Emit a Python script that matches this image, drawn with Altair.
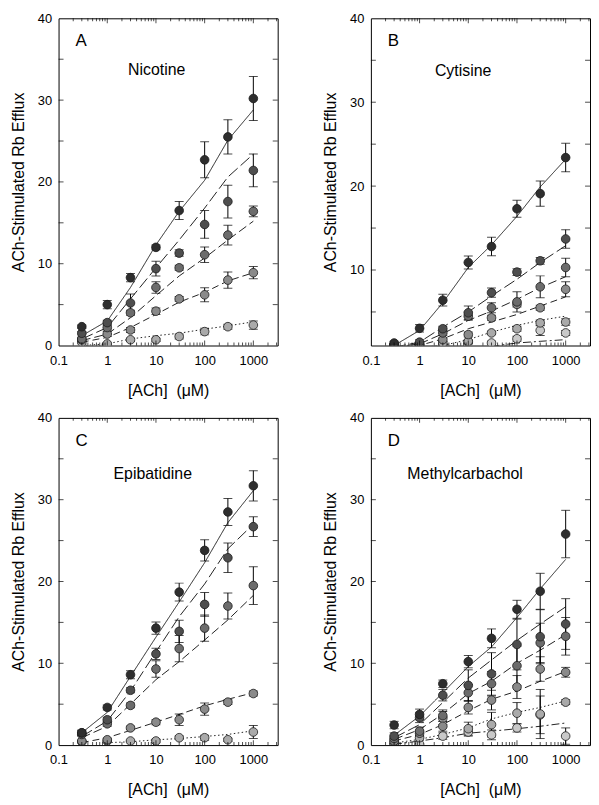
import altair as alt
import pandas as pd

# ---------------- data ----------------
X = [0.3, 1, 3, 10, 30, 100, 300, 1000]

# Panel A: Nicotine
A_MEAN = [
    [2.3, 5.0, 8.3, 12.0, 16.5, 22.7, 25.5, 30.2],
    [1.5, 2.8, 5.2, 9.4, 11.3, 14.8, 17.6, 21.4],
    [0.8, 2.2, 4.0, 7.1, 9.5, 11.1, 13.5, 16.4],
    [0.7, 1.4, 1.9, 4.2, 5.7, 6.2, 8.0, 8.9],
    [0.4, 0.2, 0.7, 0.7, 1.1, 1.7, 2.3, 2.5],
]
A_ERR = [
    [0.2, 0.5, 0.5, 0.3, 1.1, 2.2, 2.1, 2.7],
    [0.2, 0.3, 1.1, 0.9, 0.4, 1.7, 2.0, 2.0],
    [0.2, 0.3, 0.3, 0.7, 0.3, 0.95, 1.2, 0.65],
    [0.2, 0.3, 0.3, 0.4, 0.3, 0.85, 1.0, 0.75],
    [0.1, 0.1, 0.2, 0.2, 0.3, 0.4, 0.3, 0.5],
]
A_FIT = [
    [1.2, 3.0, 7.1, 12.3, 16.4, 20.2, 25.1, 28.8],
    [0.8, 2.2, 5.7, 9.5, 12.9, 16.8, 20.6, 23.4],
    [0.6, 1.4, 3.4, 6.1, 8.5, 10.7, 12.9, 15.2],
    [0.4, 1.0, 2.2, 3.8, 5.3, 6.5, 7.9, 8.9],
    [0.0, 0.2, 0.8, 1.2, 1.5, 2.0, 2.4, 2.9],
]

# Panel B: Cytisine
B_MEAN = [
    [1.3, 3.05, 6.4, 10.9, 12.8, 17.3, 19.1, 23.4],
    [1.1, 1.4, 3.0, 4.9, 7.3, 9.75, 11.1, 13.7],
    [1.1, 1.2, 2.5, 4.5, 5.5, 6.2, 8.0, 10.3],
    [1.0, 1.1, 1.7, 2.3, 4.3, 5.9, 5.5, 7.7],
    [1.0, 1.0, 1.3, 1.5, 2.5, 3.0, 3.7, 3.8],
    [1.0, 1.0, 1.1, 1.4, 1.3, 1.8, 2.8, 2.5],
]
B_ERR = [
    [0.2, 0.45, 0.7, 0.77, 1.1, 1.0, 1.5, 1.7],
    [0.1, 0.3, 0.3, 0.8, 0.55, 0.4, 0.4, 1.1],
    [0.1, 0.2, 0.3, 0.5, 0.6, 1.2, 1.3, 1.1],
    [0.1, 0.1, 0.2, 0.3, 0.3, 0.3, 0.3, 0.9],
    [0.1, 0.1, 0.2, 0.2, 0.2, 0.3, 0.35, 0.4],
    [0.1, 0.1, 0.1, 0.2, 0.2, 0.3, 0.6, 0.3],
]
B_FIT = [
    [1.0, 2.8, 6.1, 10.3, 13.0, 16.4, 19.9, 23.2],
    [0.8, 1.4, 3.2, 5.0, 6.9, 8.9, 10.9, 12.9],
    [0.8, 1.2, 2.4, 4.0, 5.1, 6.5, 7.9, 9.2],
    [0.7, 1.0, 1.8, 3.0, 3.8, 4.7, 5.7, 6.8],
    [None, 0.8, 1.0, 1.7, 2.6, 3.4, 4.0, 4.5],
    [None, None, None, None, 0.9, 1.3, 1.5, 1.7],
]

# Panel C: Epibatidine
C_MEAN = [
    [1.5, 4.6, 8.6, 14.3, 18.7, 23.8, 28.5, 31.7],
    [1.5, 3.1, 6.7, 11.15, 13.9, 17.2, 22.9, 26.7],
    [1.3, 2.6, 4.85, 9.3, 11.8, 14.3, 17.0, 19.5],
    [0.5, 0.65, 2.1, 2.8, 3.1, 4.4, 5.25, 6.3],
    [0.4, 0.5, 0.5, 0.5, 0.9, 0.9, 0.65, 1.6],
]
C_ERR = [
    [0.3, 0.3, 0.5, 0.75, 1.1, 1.3, 1.65, 1.85],
    [0.3, 0.3, 0.3, 0.7, 1.35, 1.45, 1.8, 1.2],
    [0.2, 0.3, 0.3, 1.0, 1.6, 1.6, 1.6, 2.3],
    [0.1, 0.2, 0.2, 0.3, 0.7, 0.75, 0.3, 0.3],
    [0.1, 0.1, 0.1, 0.2, 0.2, 0.3, 0.2, 0.8],
]
C_FIT = [
    [1.5, 4.0, 8.4, 13.2, 17.5, 22.3, 27.2, 31.1],
    [1.05, 2.95, 6.6, 11.4, 15.7, 19.7, 24.0, 27.0],
    [0.9, 2.3, 5.0, 8.0, 10.2, 12.85, 15.3, 18.3],
    [0.3, 0.9, 1.8, 2.8, 3.75, 4.8, 5.6, 6.4],
    [None, 0.3, 0.4, 0.65, 0.8, 1.05, 1.3, 1.75],
]

# Panel D: Methylcarbachol
D_MEAN = [
    [2.45, 3.75, 7.5, 10.2, 13.05, 16.6, 18.8, 25.8],
    [1.1, 3.35, 6.1, 7.3, 8.7, 12.3, 13.25, 14.8],
    [0.8, 1.7, 3.6, 6.4, 7.5, 9.7, 12.5, 13.3],
    [0.5, 1.45, 2.3, 4.6, 5.5, 7.1, 9.3, 8.9],
    [0.3, 0.9, 3.3, 2.0, 2.5, 3.9, 3.8, 5.25],
    [0.1, 0.1, 1.1, 1.6, 1.25, 2.1, 3.7, 1.1],
]
D_ERR = [
    [0.45, 0.65, 0.45, 0.75, 1.15, 1.1, 2.2, 2.9],
    [0.4, 0.6, 0.7, 1.9, 2.6, 3.1, 3.3, 3.1],
    [0.3, 0.5, 0.7, 1.0, 1.5, 2.4, 2.4, 2.3],
    [0.3, 0.4, 0.6, 0.8, 1.2, 1.4, 1.5, 0.6],
    [0.2, 0.3, 0.8, 0.8, 1.5, 1.3, 3.0, 0.3],
    [0.1, 0.1, 0.4, 0.5, 0.6, 0.5, 2.3, 1.0],
]
D_FIT = [
    [1.2, 3.55, 6.4, 9.6, 12.0, 15.6, 19.1, 22.7],
    [0.9, 2.5, 5.2, 8.2, 10.4, 12.8, 14.8, 16.9],
    [0.7, 1.9, 3.8, 6.3, 7.8, 10.0, 11.6, 13.5],
    [0.5, 1.3, 2.5, 4.2, 5.6, 6.6, 7.8, 9.0],
    [0.25, 0.7, 1.3, 2.1, 3.2, 4.0, 4.6, 5.4],
    [0.1, 0.5, 0.9, 1.45, 1.7, 2.0, 2.3, 2.7],
]

X_LABELS = [0.1, 1, 10, 100, 1000]
X_MINOR = [0.2, 0.3, 0.4, 0.5, 0.6, 0.7, 0.8, 0.9, 2, 3, 4, 5, 6, 7, 8, 9,
           20, 30, 40, 50, 60, 70, 80, 90, 200, 300, 400, 500, 600, 700, 800, 900,
           2000, 3000]
X_MAJOR = [1, 10, 100, 1000]
Y_TICKS = [5, 10, 15, 20, 25, 30, 35]

SERIES = ["s1", "s2", "s3", "s4", "s5", "s6"]
GREYS = ["#2e2e2e", "#4e4e4e", "#6c6c6c", "#8a8a8a", "#aaaaaa", "#c9c9c9"]
DASHES = [[1, 0], [12, 4], [9, 4], [7, 4], [1.5, 2.5], [8, 3, 2, 3]]

W, H = 221, 330
FONT = "Liberation Sans"


def build_df(mean, err, fit):
    rows = []
    n = len(mean)
    for i in reversed(range(n)):
        for j, x in enumerate(X):
            rows.append(dict(conc=x, series=SERIES[i], order=n - i,
                             mean=mean[i][j],
                             lo=mean[i][j] - err[i][j],
                             hi=mean[i][j] + err[i][j],
                             fit=fit[i][j]))
    return pd.DataFrame(rows)


def panel(mean, err, fit, letter, name, name_x, name_y, ymin, ylabels):
    df = build_df(mean, err, fit)

    xs = alt.Scale(type="log", domain=[0.1, 3162.28], nice=False)
    ys = alt.Scale(domain=[ymin, 40], nice=False, zero=False)
    xaxis = alt.Axis(values=X_LABELS, format="~g", title="[ACh]\u00a0\u00a0(\u03bcM)",
                     ticks=False, tickSize=0, domain=False, grid=False,
                     labelPadding=9, titlePadding=15, labelFlush=False,
                     labelOverlap=False)
    yaxis = alt.Axis(values=ylabels, title="ACh-Stimulated Rb Efflux",
                     ticks=False, tickSize=0, domain=False, grid=False,
                     labelPadding=7, titlePadding=11, labelOverlap=False)

    def xe(field="conc"):
        return alt.X(f"{field}:Q", scale=xs, axis=xaxis)

    def ye(field):
        return alt.Y(f"{field}:Q", scale=ys, axis=yaxis)

    base = alt.Chart(df)
    lines = base.mark_line(color="#222222", strokeWidth=1, clip=True).encode(
        x=xe(), y=ye("fit"), detail="series:N",
        strokeDash=alt.StrokeDash("series:N", scale=alt.Scale(domain=SERIES, range=DASHES), legend=None),
    )
    rules = base.mark_rule(color="black", strokeWidth=1, clip=True).encode(
        x=xe(), y=ye("lo"), y2="hi:Q")
    cap_lo = base.mark_tick(orient="horizontal", size=9, thickness=1, color="black", clip=True).encode(
        x=xe(), y=ye("lo"))
    cap_hi = base.mark_tick(orient="horizontal", size=9, thickness=1, color="black", clip=True).encode(
        x=xe(), y=ye("hi"))
    pts = base.mark_circle(size=76, opacity=1, stroke="#1a1a1a", strokeWidth=0.8, clip=True).encode(
        x=xe(), y=ye("mean"),
        fill=alt.Fill("series:N", scale=alt.Scale(domain=SERIES, range=GREYS), legend=None),
        order=alt.Order("order:Q"),
    )

    xminor = pd.DataFrame({"v": X_MINOR})
    xmajor = pd.DataFrame({"v": X_MAJOR})
    yt = pd.DataFrame({"v": [v for v in Y_TICKS if v > ymin]})
    tk = dict(thickness=1, color="black")
    decor = [
        alt.Chart(xminor).mark_tick(orient="vertical", size=3, **tk).encode(x=xe("v"), y=alt.value(1.5)),
        alt.Chart(xmajor).mark_tick(orient="vertical", size=5, **tk).encode(x=xe("v"), y=alt.value(2.5)),
        alt.Chart(xminor).mark_tick(orient="vertical", size=3, **tk).encode(x=xe("v"), y=alt.value(H - 1.5)),
        alt.Chart(xmajor).mark_tick(orient="vertical", size=5, **tk).encode(x=xe("v"), y=alt.value(H - 2.5)),
        alt.Chart(yt).mark_tick(orient="horizontal", size=5, **tk).encode(y=ye("v"), x=alt.value(2.5)),
        alt.Chart(yt).mark_tick(orient="horizontal", size=5, **tk).encode(y=ye("v"), x=alt.value(W - 2.5)),
    ]
    txt = pd.DataFrame({"letter": [letter], "name": [name]})
    t_letter = alt.Chart(txt).mark_text(font=FONT, fontSize=17, align="left", baseline="middle",
                                        color="black").encode(
        text="letter:N", x=alt.value(17), y=alt.value(23))
    t_name = alt.Chart(txt).mark_text(font=FONT, fontSize=16, align="center", baseline="middle",
                                      color="black").encode(
        text="name:N", x=alt.value(name_x), y=alt.value(name_y))

    return alt.layer(lines, rules, cap_lo, cap_hi, pts, *decor, t_letter, t_name).properties(
        width=W, height=H)


pA = panel(A_MEAN, A_ERR, A_FIT, "A", "Nicotine", 99, 52, 0, [0, 10, 20, 30, 40])
pB = panel(B_MEAN, B_ERR, B_FIT, "B", "Cytisine", 93, 53, 1, [10, 20, 30, 40])
pC = panel(C_MEAN, C_ERR, C_FIT, "C", "Epibatidine", 95, 57, 0, [0, 10, 20, 30, 40])
pD = panel(D_MEAN, D_ERR, D_FIT, "D", "Methylcarbachol", 95, 57, 0, [0, 10, 20, 30, 40])

chart = alt.vconcat(
    alt.hconcat(pA, pB, spacing=44),
    alt.hconcat(pC, pD, spacing=44),
    spacing=12,
).properties(
    padding={"left": 2, "top": 0, "right": 0, "bottom": 0},
    background="white",
).configure_view(
    stroke="black", strokeWidth=1
).configure_axis(
    labelFont=FONT, labelFontSize=13, labelColor="black",
    titleFont=FONT, titleFontSize=16, titleFontWeight="normal", titleColor="black",
)

chart.save("out.html", embed_options={"renderer": "svg", "actions": False})
